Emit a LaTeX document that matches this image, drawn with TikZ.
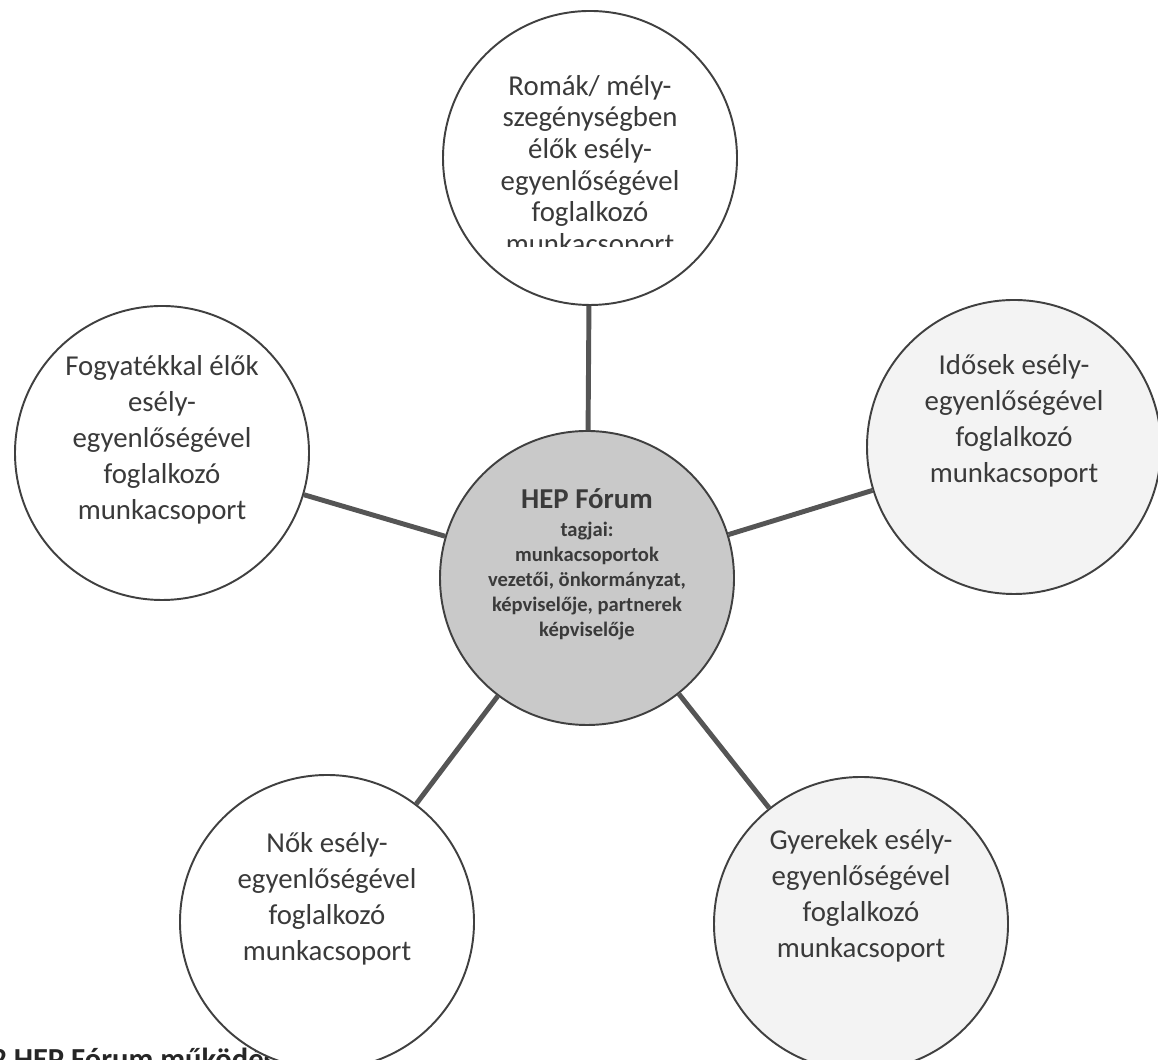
\documentclass[tikz,border=0pt]{standalone}
\usepackage{fontspec}
\setmainfont{Carlito}
\usepackage{xcolor}
\usepackage{tikz}
\usetikzlibrary{positioning,calc}

\definecolor{ringgray}{HTML}{404040}
\definecolor{spokegray}{HTML}{555555}
\definecolor{hubfill}{HTML}{C9C9C9}
\definecolor{inkgray}{HTML}{3A3A3A}
\definecolor{scanfill}{HTML}{F3F3F3}

\begin{document}
\begin{tikzpicture}[
    group/.style={circle, draw=ringgray, line width=1.1pt, fill=white, minimum size=5.88cm, inner sep=0pt},
    hub/.style={group, fill=hubfill},
    spoke/.style={draw=spokegray, line width=2.8pt},
    grouptext/.style={align=center, inner sep=0pt, text=inkgray, font=\fontsize{16.4}{20.5}\selectfont},
    hubtext/.style={align=center, inner sep=0pt, text=inkgray, font=\bfseries\fontsize{11.7}{14.2}\selectfont}
]
    \useasboundingbox (0,0) rectangle (23.16,21.2);
    \clip (0,0) rectangle (23.16,21.2);

    % Caption, cut by the page edge
    \node[anchor=base west, inner sep=0pt, text=black!85, font=\bfseries\fontsize{17.4}{20}\selectfont] (caption) at (-0.18,-0.2) {2 HEP Fórum működése};

    % Hub and work groups
    \node[hub] (hub) at (11.74,9.64) {};
    \node[group] (roma) at (11.8,18.04) {};
    \node[group, fill=scanfill] (elderly) at (20.28,12.26) {};
    \node[group, fill=scanfill] (children) at (17.22,2.72) {};
    \node[group] (women) at (6.54,2.76) {};
    \node[group] (disabled) at (3.24,12.14) {};

    % Spokes
    \foreach \grp in {roma,elderly,children,women,disabled}
        \draw[spoke] (hub) -- (\grp);

    % Texts
    \node[hubtext] (hub-text) at ([yshift=0.28cm]hub) {{\fontsize{16.4}{18.7}\selectfont HEP Fórum}\\[2pt]tagjai:\\munkacsoportok\\vezetői, önkormányzat,\\képviselője, partnerek\\képviselője};

    \begin{scope}
        \clip ($(roma)+(-3,-1.78)$) rectangle ($(roma)+(3,3)$); % text box cut-off
        \node[grouptext, anchor=north, font=\fontsize{16.4}{18}\selectfont] (roma-text) at ([yshift=1.66cm]roma) {Romák/ mély-\\szegénységben\\élők esély-\\egyenlőségével\\foglalkozó\\munkacsoport};
    \end{scope}

    \node[grouptext] (elderly-text) at ([yshift=0.53cm]elderly) {Idősek esély-\\egyenlőségével\\foglalkozó\\munkacsoport};
    \node[grouptext] (children-text) at ([yshift=0.57cm]children) {Gyerekek esély-\\egyenlőségével\\foglalkozó\\munkacsoport};
    \node[grouptext] (women-text) at ([yshift=0.46cm]women) {Nők esély-\\egyenlőségével\\foglalkozó\\munkacsoport};
    \node[grouptext] (disabled-text) at ([yshift=0.26cm]disabled) {Fogyatékkal élők\\esély-\\egyenlőségével\\foglalkozó\\munkacsoport};
\end{tikzpicture}
\end{document}
